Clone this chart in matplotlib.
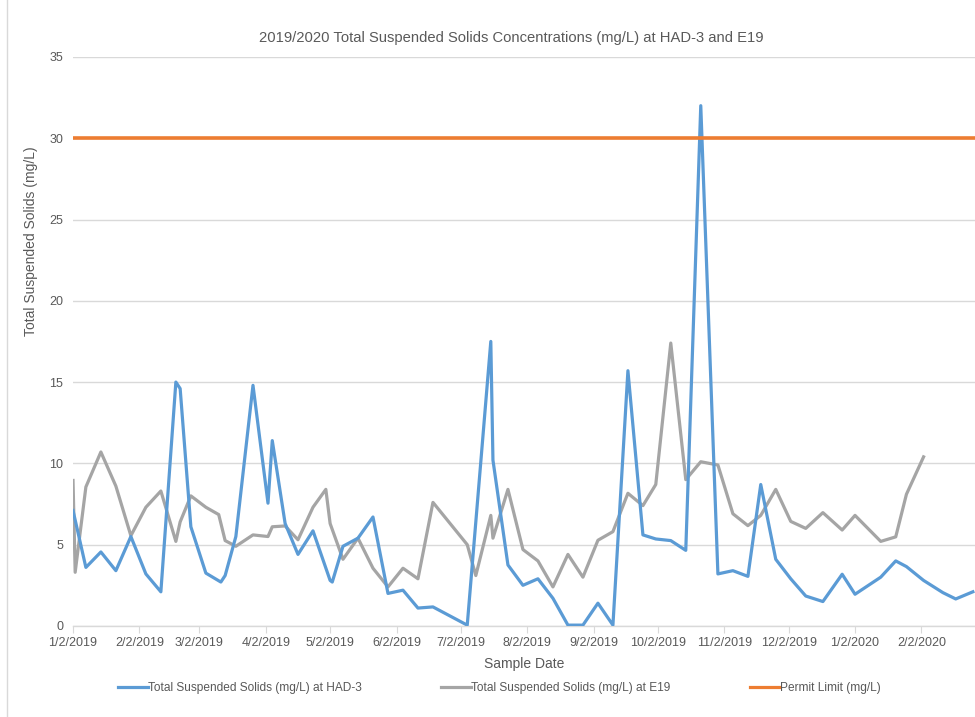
import matplotlib
matplotlib.use("Agg")
import matplotlib.pyplot as plt
from matplotlib.lines import Line2D
import pandas as pd

plt.rcParams['font.family'] = ['Liberation Sans', 'DejaVu Sans']

title = "2019/2020 Total Suspended Solids Concentrations (mg/L) at HAD-3 and E19"
y_label = "Total Suspended Solids (mg/L)"
x_label = "Sample Date"
name_had3 = "Total Suspended Solids (mg/L) at HAD-3"
name_e19 = "Total Suspended Solids (mg/L) at E19"
name_limit = "Permit Limit (mg/L)"

dates_had3 = ["2019-01-02", "2019-01-08", "2019-01-15", "2019-01-22", "2019-01-29",
              "2019-02-05", "2019-02-12", "2019-02-19", "2019-02-21", "2019-02-26",
              "2019-03-05", "2019-03-12", "2019-03-14", "2019-03-19", "2019-03-27",
              "2019-04-03", "2019-04-05", "2019-04-11", "2019-04-17", "2019-04-24",
              "2019-05-02", "2019-05-03", "2019-05-08", "2019-05-15", "2019-05-22",
              "2019-05-29", "2019-06-05", "2019-06-12", "2019-06-19", "2019-07-05",
              "2019-07-16", "2019-07-17", "2019-07-24", "2019-07-31", "2019-08-07",
              "2019-08-14", "2019-08-21", "2019-08-28", "2019-09-04", "2019-09-11",
              "2019-09-18", "2019-09-25", "2019-10-01", "2019-10-08", "2019-10-15",
              "2019-10-22", "2019-10-30", "2019-11-06", "2019-11-13", "2019-11-19",
              "2019-11-26", "2019-12-03", "2019-12-10", "2019-12-18", "2019-12-27",
              "2020-01-02", "2020-01-14", "2020-01-21", "2020-01-26", "2020-02-03",
              "2020-02-12", "2020-02-18", "2020-02-26"]
tss_had3 = [7.1, 3.6, 4.55, 3.4, 5.5,
            3.2, 2.1, 15.0, 14.6, 6.1,
            3.25, 2.7, 3.1, 5.5, 14.8,
            7.55, 11.4, 6.3, 4.4, 5.85,
            2.8, 2.7, 4.9, 5.4, 6.7,
            2.0, 2.2, 1.1, 1.17, 0.05,
            17.5, 10.2, 3.75, 2.5, 2.9,
            1.7, 0.05, 0.05, 1.4, 0.05,
            15.7, 5.6, 5.35, 5.25, 4.65,
            32.0, 3.2, 3.4, 3.05, 8.7,
            4.1, 2.9, 1.84, 1.5, 3.18,
            1.95, 3.0, 4.0, 3.65, 2.8,
            2.05, 1.66, 2.1]

dates_e19 = ["2019-01-02", "2019-01-03", "2019-01-08", "2019-01-15", "2019-01-22",
             "2019-01-29", "2019-02-05", "2019-02-12", "2019-02-19", "2019-02-21",
             "2019-02-26", "2019-03-05", "2019-03-11", "2019-03-14", "2019-03-19",
             "2019-03-27", "2019-04-03", "2019-04-05", "2019-04-11", "2019-04-17",
             "2019-04-24", "2019-04-30", "2019-05-02", "2019-05-08", "2019-05-15",
             "2019-05-22", "2019-05-29", "2019-06-05", "2019-06-12", "2019-06-19",
             "2019-07-05", "2019-07-09", "2019-07-16", "2019-07-17", "2019-07-24",
             "2019-07-31", "2019-08-07", "2019-08-14", "2019-08-21", "2019-08-28",
             "2019-09-04", "2019-09-11", "2019-09-18", "2019-09-25", "2019-10-01",
             "2019-10-08", "2019-10-15", "2019-10-22", "2019-10-30", "2019-11-06",
             "2019-11-13", "2019-11-19", "2019-11-26", "2019-12-03", "2019-12-10",
             "2019-12-18", "2019-12-27", "2020-01-02", "2020-01-14", "2020-01-21",
             "2020-01-26", "2020-02-03"]
tss_e19 = [8.95, 3.3, 8.55, 10.7, 8.6,
           5.55, 7.3, 8.3, 5.2, 6.4,
           8.0, 7.3, 6.85, 5.25, 4.9,
           5.6, 5.5, 6.1, 6.15, 5.3,
           7.3, 8.4, 6.3, 4.1, 5.4,
           3.55, 2.4, 3.55, 2.9, 7.6,
           5.0, 3.1, 6.8, 5.4, 8.4,
           4.7, 4.0, 2.4, 4.4, 3.0,
           5.27, 5.8, 8.16, 7.4, 8.7,
           17.4, 9.0, 10.1, 9.9, 6.9,
           6.17, 6.8, 8.4, 6.43, 6.0,
           6.97, 5.9, 6.8, 5.2, 5.48,
           8.1, 10.4]

permit_limit = 30

tick_dates = ["2019-01-02", "2019-02-02", "2019-03-02", "2019-04-02", "2019-05-02",
              "2019-06-02", "2019-07-02", "2019-08-02", "2019-09-02", "2019-10-02",
              "2019-11-02", "2019-12-02", "2020-01-02", "2020-02-02"]
tick_labels = ["1/2/2019", "2/2/2019", "3/2/2019", "4/2/2019", "5/2/2019",
               "6/2/2019", "7/2/2019", "8/2/2019", "9/2/2019", "10/2/2019",
               "11/2/2019", "12/2/2019", "1/2/2020", "2/2/2020"]
y_ticks = [0, 5, 10, 15, 20, 25, 30, 35]

BLUE = "#5B9BD5"
GRAY = "#A5A5A5"
ORANGE = "#ED7D31"
TXT = "#595959"
GRID = "#D9D9D9"

fig = plt.figure(figsize=(9.75, 7.17), dpi=100)
ax = fig.add_axes([0.0749, 0.127, 0.9251, 0.7936])

ax.plot(pd.to_datetime(dates_had3), tss_had3, color=BLUE, lw=2.3, solid_joinstyle='round', zorder=3)
ax.plot(pd.to_datetime(dates_e19), tss_e19, color=GRAY, lw=2.3, solid_joinstyle='round', zorder=2)
ax.axhline(permit_limit, color=ORANGE, lw=2.6, zorder=4)

ax.set_xlim(pd.Timestamp("2019-01-02"), pd.Timestamp("2020-02-27"))
ax.set_ylim(0, 35)
ax.set_yticks(y_ticks)
ax.set_yticklabels([str(v) for v in y_ticks])
ax.set_xticks(pd.to_datetime(tick_dates))
ax.set_xticklabels(tick_labels)

ax.grid(axis='y', color=GRID, lw=1.0)
ax.set_axisbelow(True)
for s in ['top', 'right', 'left']:
    ax.spines[s].set_visible(False)
ax.spines['bottom'].set_color(GRID)
ax.spines['bottom'].set_linewidth(1.0)
ax.tick_params(axis='y', length=0, pad=7, labelsize=9, labelcolor=TXT)
ax.tick_params(axis='x', length=5, color=GRID, pad=3, labelsize=9, labelcolor=TXT)

fig.text(0.524, 0.947, title, fontsize=10.6, color=TXT, ha='center', va='center')
ax.set_ylabel(y_label, fontsize=10, color=TXT)
ax.yaxis.set_label_coords(-0.039, 0.677)
ax.set_xlabel(x_label, fontsize=10, color=TXT, labelpad=6)

handles = [Line2D([], [], color=BLUE, lw=2.3),
           Line2D([], [], color=GRAY, lw=2.3),
           Line2D([], [], color=ORANGE, lw=2.3)]
leg = fig.legend(handles, [name_had3, name_e19, name_limit], loc='center',
                 bbox_to_anchor=(0.512, 0.0405), ncol=3, frameon=False, fontsize=8.6,
                 handlelength=2.5, handletextpad=0.05, columnspacing=6.6)
for t in leg.get_texts():
    t.set_color(TXT)

fig.add_artist(Line2D([0.0072, 0.0072], [0.0, 1.0], color=GRID, lw=1.0))

fig.savefig("out.png", dpi=100)
